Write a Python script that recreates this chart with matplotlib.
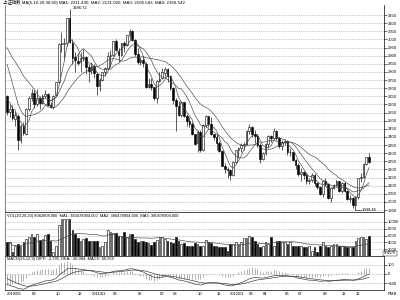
import matplotlib
matplotlib.use("Agg")
import matplotlib.pyplot as plt
import numpy as np
import pandas as pd

plt.rcParams['font.family'] = ['Liberation Sans', 'Noto Sans CJK SC', 'DejaVu Sans']

# weekly closes before the first shown bar (2009-04 .. 2010-05), only for MA / MACD warm-up
prior_close = [2444, 2444, 2503, 2470, 2478, 2626, 2647, 2610, 2632, 2751, 2743, 2880,
               2920, 3009, 3071, 3189, 3372, 3412, 3260, 3112, 2960, 2860, 2861, 3030,
               3026, 2880, 2779, 2911, 3046, 3083, 2995, 3165, 3187, 3308, 3096, 3319,
               3247, 3113, 3154, 3277, 3196, 3224, 3128, 2989, 2939, 3018, 3051, 3031,
               3013, 3067, 3060, 3129, 3132, 3130, 3033, 2870, 2688, 2697, 2583, 2655]

# weekly bars 2010-06-04 .. 2013-01-11
opens = [2655, 2553, 2570, 2510, 2530, 2380, 2470, 2420, 2575, 2640, 2672, 2600, 2640, 2610,
         2655, 2665, 2598, 2585, 2660, 2740, 2975, 2970, 2980, 3130, 2980, 2890, 2870, 2860,
         2885, 2895, 2830, 2810, 2838, 2790, 2715, 2752, 2800, 2827, 2900, 2905, 2990, 2930,
         2906, 2977, 2967, 3030, 3050, 2999, 2911, 2864, 2871, 2850, 2710, 2728, 2705, 2640,
         2746, 2760, 2795, 2820, 2775, 2700, 2626, 2593, 2534, 2612, 2528, 2497, 2482, 2416,
         2360, 2431, 2317, 2473, 2528, 2481, 2416, 2397, 2360, 2315, 2224, 2205, 2199, 2163,
         2244, 2319, 2330, 2352, 2357, 2439, 2460, 2421, 2404, 2349, 2262, 2302, 2359, 2406,
         2396, 2438, 2394, 2344, 2366, 2373, 2306, 2306, 2260, 2225, 2170, 2185, 2168, 2128,
         2132, 2168, 2114, 2092, 2047, 2128, 2110, 2026, 2086, 2105, 2128, 2067, 2117, 2069,
         2015, 2026, 1980, 2033, 2150, 2153, 2233, 2276]
highs = [2660, 2600, 2597, 2560, 2540, 2480, 2490, 2575, 2653, 2698, 2690, 2694, 2650, 2663,
         2690, 2670, 2615, 2660, 2740, 2980, 3047, 3010, 3130, 3186.72, 3000, 2920, 2910, 2920,
         2940, 2900, 2850, 2860, 2850, 2800, 2760, 2800, 2830, 2920, 2936, 2993, 3000, 2950,
         2980, 2990, 3030, 3067, 3060, 3000, 2950, 2890, 2900, 2860, 2760, 2760, 2710, 2750,
         2800, 2827, 2830, 2826, 2780, 2710, 2640, 2620, 2620, 2616, 2540, 2520, 2490, 2420,
         2440, 2440, 2480, 2536, 2530, 2520, 2420, 2420, 2375, 2320, 2240, 2215, 2200, 2250,
         2320, 2340, 2360, 2370, 2440, 2478, 2470, 2440, 2420, 2360, 2310, 2360, 2410, 2410,
         2453, 2440, 2400, 2380, 2390, 2380, 2330, 2310, 2265, 2240, 2210, 2190, 2175, 2150,
         2180, 2170, 2120, 2100, 2130, 2150, 2115, 2090, 2110, 2135, 2130, 2120, 2120, 2075,
         2040, 2030, 2035, 2150, 2175, 2240, 2276, 2302]
lows = [2535, 2520, 2505, 2470, 2320, 2362, 2410, 2410, 2560, 2620, 2580, 2590, 2570, 2600,
        2640, 2590, 2575, 2573, 2655, 2735, 2920, 2880, 2960, 2980, 2850, 2800, 2840, 2800,
        2870, 2790, 2740, 2790, 2760, 2661, 2680, 2745, 2775, 2820, 2830, 2900, 2930, 2860,
        2900, 2925, 2960, 3000, 2990, 2900, 2850, 2840, 2830, 2700, 2700, 2690, 2630, 2610,
        2740, 2755, 2770, 2740, 2690, 2600, 2437, 2530, 2520, 2520, 2470, 2460, 2410, 2350,
        2307, 2310, 2315, 2460, 2460, 2410, 2380, 2320, 2305, 2220, 2180, 2150, 2132, 2160,
        2240, 2270, 2310, 2320, 2350, 2420, 2400, 2360, 2340, 2242, 2260, 2290, 2330, 2370,
        2390, 2380, 2330, 2320, 2350, 2290, 2280, 2250, 2200, 2160, 2130, 2140, 2110, 2110,
        2125, 2100, 2080, 2040, 2030, 2100, 2020, 2000, 2080, 2095, 2060, 2055, 2060, 2010,
        2000, 1960, 1949.46, 2020, 2120, 2145, 2230, 2240]
closes = [2553, 2569, 2514, 2535, 2383, 2470, 2424, 2572, 2637, 2672, 2604, 2642, 2610, 2655,
          2663, 2598, 2585, 2655, 2738, 2971, 2975, 2979, 3129, 2985, 2888, 2871, 2858, 2885,
          2895, 2833, 2808, 2838, 2791, 2715, 2752, 2798, 2827, 2900, 2905, 2990, 2937, 2906,
          2977, 2967, 3030, 3050, 2999, 2911, 2864, 2871, 2858, 2710, 2728, 2705, 2642, 2746,
          2759, 2797, 2820, 2775, 2701, 2626, 2593, 2534, 2612, 2528, 2497, 2482, 2416, 2359,
          2431, 2317, 2473, 2528, 2481, 2416, 2397, 2360, 2315, 2224, 2205, 2199, 2163, 2244,
          2319, 2330, 2352, 2357, 2439, 2460, 2421, 2404, 2349, 2262, 2302, 2359, 2406, 2396,
          2438, 2394, 2344, 2366, 2373, 2306, 2306, 2260, 2225, 2170, 2185, 2168, 2128, 2132,
          2168, 2114, 2092, 2047, 2128, 2110, 2026, 2086, 2105, 2128, 2067, 2117, 2069, 2015,
          2026, 1980, 2033, 2150, 2153, 2233, 2276, 2243]
volumes = [4000, 4000, 1300, 3000, 3500, 3000, 4200, 5000, 5700, 6500, 5500, 6500, 4700, 5000,
           6300, 6500, 4300, 1300, 3000, 9000, 10700, 10700, 10700, 10800, 7500, 6500, 5300, 4500,
           5000, 5300, 4300, 4300, 4300, 4500, 2500, 3000, 4000, 7500, 7000, 6700, 6700, 6000,
           6000, 7000, 5500, 6500, 6500, 5000, 4000, 4500, 4300, 4000, 3800, 3300, 4000, 4700,
           5500, 5500, 5000, 4300, 4000, 3700, 5500, 4500, 3500, 3700, 3000, 3000, 3000, 3700,
           3500, 3000, 3000, 4700, 4000, 3700, 3000, 3000, 2700, 2500, 2500, 1500, 3500, 3500,
           4000, 3500, 4000, 5200, 5300, 6000, 5700, 4300, 3500, 2500, 3000, 4000, 3500, 5700,
           3000, 4500, 4300, 4000, 4000, 3500, 4000, 3000, 2800, 3000, 3000, 2500, 2700, 3000,
           1500, 2500, 1300, 3000, 4000, 3000, 2500, 3000, 3500, 3500, 3000, 3000, 3000, 2500,
           2500, 2500, 4500, 5300, 5700, 5700, 5000, 6000]

tick_pos = [0, 9, 18, 26, 31, 39, 48, 56, 61, 70, 77, 82, 89, 94, 102, 107, 116, 123, 128]
tick_labels = ["2010/06", "08", "10", "12", "2011/01", "03", "05", "07", "08", "10", "12",
               "2012/01", "03", "04", "06", "07", "09", "11", "12"]

o = np.array(opens, float)
h = np.array(highs, float)
l = np.array(lows, float)
c = np.array(closes, float)
v = np.array(volumes, float)
x = np.arange(len(c))
up = c >= o
n_prior = len(prior_close)
all_close = pd.Series(prior_close + closes, dtype=float)

fig = plt.figure(figsize=(4, 3), dpi=100)
fig.patch.set_facecolor("white")


def px_axes(left, top, right, bottom):
    return fig.add_axes([left / 400, 1 - bottom / 300, (right - left) / 400, (bottom - top) / 300])


ax = px_axes(5, 5, 384, 212)
axv = px_axes(5, 213, 384, 256)
axm = px_axes(5, 257, 384, 290)

grid_kw = dict(color="#9a9a9a", linewidth=0.4, linestyle=(0, (2, 2)))
for a in (ax, axv, axm):
    a.set_xlim(-0.75, 138.5)
    a.yaxis.tick_right()
    a.tick_params(axis="y", labelsize=3, length=2, width=0.4, pad=1)
    a.tick_params(axis="x", length=0, labelbottom=False)
    a.grid(axis="y", **grid_kw)
    a.set_axisbelow(True)
    for side in ("left", "right", "bottom", "top"):
        a.spines[side].set_linewidth(0.5)
    a.spines["top"].set_visible(False)
    a.spines["left"].set_color("#555555")

# candles
body_w = 0.62
ax.vlines(x, l, h, color="black", linewidth=0.45, zorder=2)
ax.bar(x[up], np.maximum(c[up] - o[up], 2), bottom=o[up], width=body_w,
       facecolor="white", edgecolor="black", linewidth=0.4, zorder=3)
ax.bar(x[~up], np.maximum(o[~up] - c[~up], 2), bottom=c[~up], width=body_w,
       facecolor="black", edgecolor="black", linewidth=0.4, zorder=3)

for n in (5, 10, 20):
    ma = all_close.rolling(n, min_periods=1).mean().to_numpy()[n_prior:]
    ax.plot(x, ma, color="#444444", linewidth=0.45, zorder=4)

ax.set_ylim(1938, 3212)
ax.set_yticks(np.arange(1950, 3151, 50))
ax.annotate("3186.72", xy=(23, 3186.72), xytext=(24.2, 3192), fontsize=3, va="center")
ax.plot([128, 130], [1949.46, 1949.46], color="black", linewidth=0.4)
ax.text(130.3, 1951, "1949.46", fontsize=3, va="center")

fig.text(3 / 400, 1 - 2.5 / 300,
         "上证指数 MA(5,10,20,30,60) MA1: 2211.430, MA2: 2131.020, MA3: 2106.543, MA4: 2166.542",
         fontsize=3.2, va="center", ha="left")

# volume
axv.bar(x[up], v[up], width=body_w, facecolor="white", edgecolor="black", linewidth=0.4)
axv.bar(x[~up], v[~up], width=body_w, facecolor="black", edgecolor="black", linewidth=0.4)
axv.plot(x, pd.Series(v).rolling(20, min_periods=1).mean(), color="#444444", linewidth=0.45)
axv.set_ylim(0, 12600)
axv.set_yticks([2000, 4000, 6000, 8000, 10000])
axv.text(0.004, 0.985,
         "VOL(20,20,20) 8082808.000  MA1: 380478904.000  MA2: 380478904.000  MA3: 380478904.000",
         transform=axv.transAxes, fontsize=2.9, va="top", ha="left")
axv.text(1.0, 0.06, "874570", transform=axv.transAxes, fontsize=2.6, va="center", ha="left",
         bbox=dict(boxstyle="square,pad=0.15", facecolor="white", edgecolor="black", linewidth=0.3))

# MACD
ema12 = all_close.ewm(span=12, adjust=False).mean()
ema26 = all_close.ewm(span=26, adjust=False).mean()
diff = ema12 - ema26
dea = diff.ewm(span=9, adjust=False).mean()
hist = 2 * (diff - dea)
axm.vlines(x, 0, hist.to_numpy()[n_prior:], color="#777777", linewidth=0.4)
axm.plot(x, diff.to_numpy()[n_prior:], color="#333333", linewidth=0.45)
axm.plot(x, dea.to_numpy()[n_prior:], color="#333333", linewidth=0.45)
axm.set_ylim(-170, 180)
axm.set_yticks([-100, 0, 100])
axm.text(0.004, 0.985, "MACD(26,12,9) DIFF: -2.795, DEA: -36.984, MACD: 66.558",
         transform=axm.transAxes, fontsize=2.9, va="top", ha="left")

axm.set_xticks(tick_pos)
axm.set_xticklabels(tick_labels)
axm.tick_params(axis="x", labelbottom=True, labelsize=3, length=0, pad=1.5)
for lab in axm.get_xticklabels():
    lab.set_horizontalalignment("left")
fig.text(388 / 400, 1 - 294 / 300, "RMB", fontsize=3, va="center", ha="left")

fig.savefig("out.png", dpi=100, facecolor="white")
